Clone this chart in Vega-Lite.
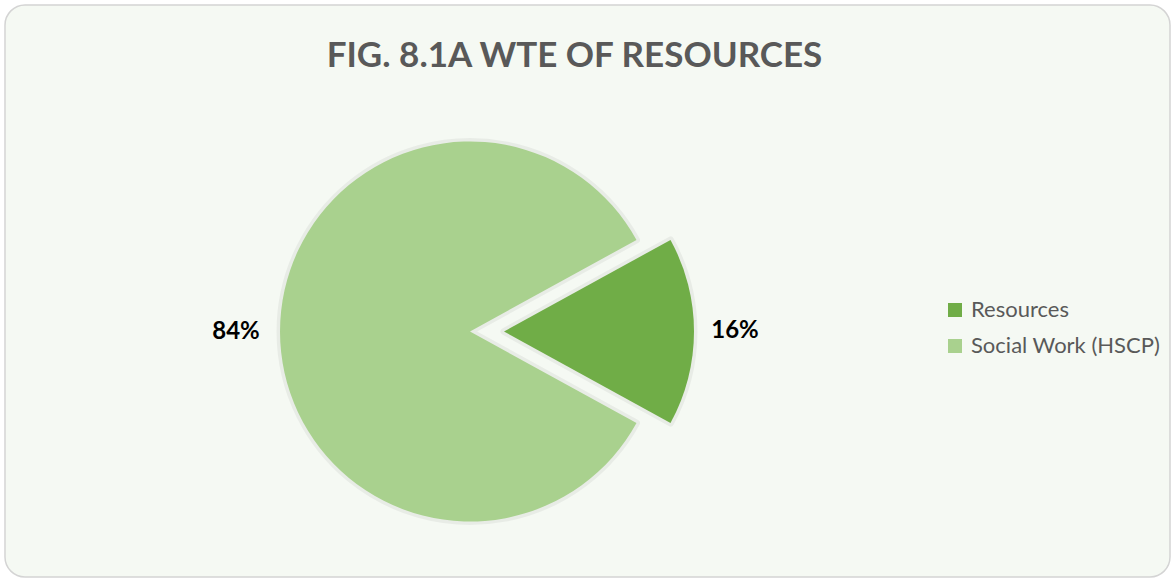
{
  "$schema": "https://vega.github.io/schema/vega-lite/v6.json",
  "width": 1165,
  "height": 572,
  "autosize": {"type": "none"},
  "padding": {"left": 5, "top": 5, "right": 3, "bottom": 2},
  "background": "#ffffff",
  "view": {"fill": "#F5F9F3", "stroke": "#D4D4D4", "strokeWidth": 1.5, "cornerRadius": 20},
  "title": {
    "text": "FIG. 8.1A WTE OF RESOURCES",
    "font": "Lato",
    "fontWeight": "bold",
    "fontSize": 35,
    "color": "#595959",
    "offset": -97,
    "baseline": "alphabetic",
    "dx": -13
  },
  "data": {
    "values": [
      {"category": "Resources", "value": 16, "label": "16%", "order": 1},
      {"category": "Social Work (HSCP)", "value": 84, "label": "84%", "order": 2}
    ]
  },
  "encoding": {
    "theta": {"field": "value", "type": "quantitative", "stack": true, "scale": {"range": [1.0681, 7.3513]}},
    "order": {"field": "order", "type": "quantitative"}
  },
  "layer": [
    {
      "mark": {"type": "arc", "radius": 190, "xOffset": -117.5, "yOffset": 40.5, "fillOpacity": 0, "stroke": "#000000", "strokeWidth": 7, "strokeJoin": "round"},
      "encoding": {
        "strokeOpacity": {"condition": {"test": "datum.category === 'Resources'", "value": 0}, "value": 0.05}
      }
    },
    {
      "mark": {"type": "arc", "radius": 190, "xOffset": -83.5, "yOffset": 40.5, "fillOpacity": 0, "stroke": "#000000", "strokeWidth": 7, "strokeJoin": "round"},
      "encoding": {
        "strokeOpacity": {"condition": {"test": "datum.category === 'Resources'", "value": 0.05}, "value": 0}
      }
    },
    {
      "mark": {"type": "arc", "radius": 190, "xOffset": -117.5, "yOffset": 40.5},
      "encoding": {
        "color": {
          "field": "category",
          "type": "nominal",
          "scale": {"domain": ["Resources", "Social Work (HSCP)"], "range": ["#70AD47", "#A9D18E"]},
          "legend": {
            "orient": "none",
            "legendX": 939,
            "legendY": 294,
            "title": null,
            "padding": 0,
            "symbolType": "square",
            "symbolSize": 196,
            "symbolStrokeWidth": 0,
            "labelFont": "Lato",
            "labelFontSize": 22,
            "labelColor": "#595959",
            "labelOffset": 5,
            "labelLimit": 0,
            "rowPadding": 14
          }
        },
        "fillOpacity": {"condition": {"test": "datum.category === 'Resources'", "value": 0}, "value": 1}
      }
    },
    {
      "mark": {"type": "arc", "radius": 190, "xOffset": -83.5, "yOffset": 40.5},
      "encoding": {
        "color": {"field": "category", "type": "nominal"},
        "fillOpacity": {"condition": {"test": "datum.category === 'Resources'", "value": 1}, "value": 0}
      }
    },
    {
      "mark": {"type": "text", "radius": 234, "xOffset": -117.5, "yOffset": 40.5, "font": "Lato", "fontWeight": "bold", "fontSize": 24, "color": "#000000"},
      "encoding": {
        "text": {"condition": {"test": "datum.category === 'Resources'", "value": ""}, "field": "label", "type": "nominal"}
      }
    },
    {
      "mark": {"type": "text", "radius": 231, "xOffset": -83.5, "yOffset": 40.5, "font": "Lato", "fontWeight": "bold", "fontSize": 24, "color": "#000000"},
      "encoding": {
        "text": {"condition": {"test": "datum.category !== 'Resources'", "value": ""}, "field": "label", "type": "nominal"}
      }
    }
  ]
}
